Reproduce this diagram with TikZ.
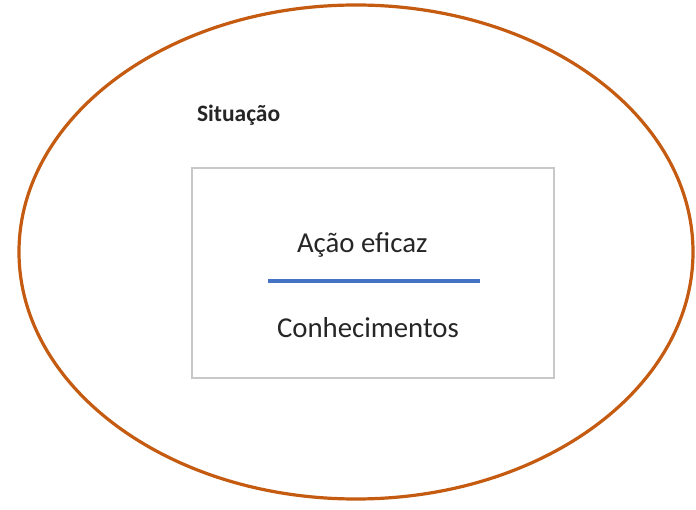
\documentclass[tikz,border=0pt]{standalone}
\usepackage{fontspec}
\setmainfont{Carlito}
\usetikzlibrary{shapes.geometric}
\definecolor{rim}{RGB}{197,90,17}
\definecolor{bar}{RGB}{68,114,196}
\definecolor{frame}{RGB}{200,200,200}
\begin{document}
\begin{tikzpicture}[x=1pt,y=-1pt,line width=1pt]
	\tikzset{every node/.style={inner sep=0pt,outer sep=0pt,text=black!85}}
	\tikzset{SIT/.style={ellipse,draw=rim,line width=3.2pt,minimum width=674pt,minimum height=494pt}} % SIT = situation ellipse
	\tikzset{BOX/.style={rectangle,draw=frame,line width=1.5pt,fill=white,minimum width=362pt,minimum height=210pt}} % BOX = inner frame
	\tikzset{TXT/.style={anchor=base west,font=\fontsize{28.8}{34}\selectfont}} % TXT = text in the frame
	\tikzset{BAR/.style={draw=bar,line width=4pt}} % BAR = fraction line
	\useasboundingbox (0,0) rectangle (696,510);
	\node(ell)[SIT] at (356,252) {};
	\node(lbl)[anchor=base west,font=\bfseries\fontsize{23.5}{27}\selectfont] at (197,122) {Situação};
	\node(box)[BOX] at (373,273) {};
	\node(top)[TXT] at (297,253) {Ação eficaz};
	\node(bot)[TXT] at (277,338) {Conhecimentos};
	\coordinate(L) at (268,281);
	\coordinate(R) at (480,281);
	\draw[BAR] (L) -- (R);
\end{tikzpicture}
\end{document}
